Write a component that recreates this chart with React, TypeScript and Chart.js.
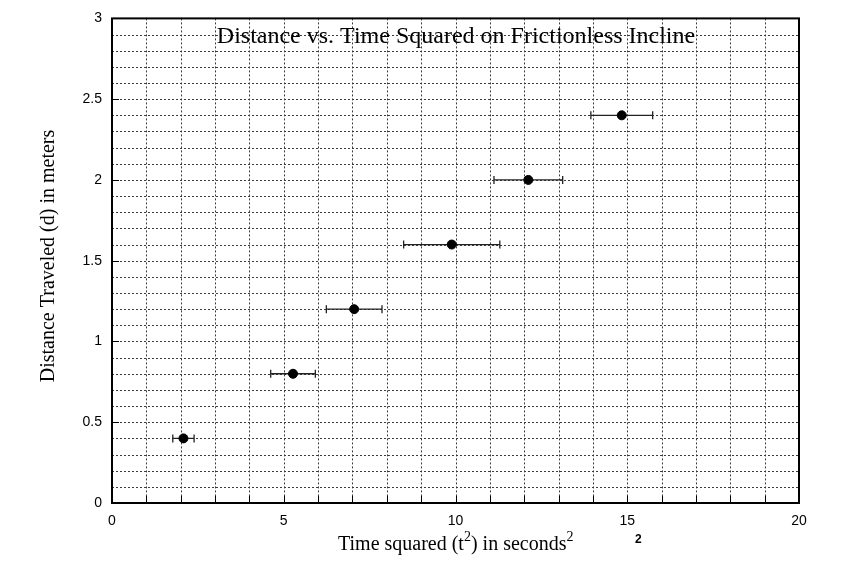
import React, { useEffect, useRef } from "react";
import { Chart, registerables } from "chart.js";

Chart.register(...registerables);

// ---- Data ----
const timeSquared = [2.08, 5.27, 7.05, 9.89, 12.12, 14.84];
const distance = [0.4, 0.8, 1.2, 1.6, 2.0, 2.4];
const timeSquaredError = [0.31, 0.65, 0.81, 1.4, 1.0, 0.9];
const xTickLabels = ["0", "5", "10", "15", "20"];
const yTickLabels = ["0", "0.5", "1", "1.5", "2", "2.5", "3"];
const titleText = "Distance vs. Time Squared on Frictionless Incline";
const yAxisTitle = "Distance Traveled (d) in meters";
const xAxisTitleParts: [string, boolean][] = [
  ["Time squared (t", false],
  ["2", true],
  [") in seconds", false],
  ["2", true],
];
const strayLabel = "2";

const SERIF = '"Liberation Serif", "Times New Roman", serif';
const SANS = '"Liberation Sans", Arial, sans-serif';

const gridPlugin = {
  id: "dottedGrid",
  beforeDatasetsDraw(chart: any) {
    const { ctx, chartArea: a, scales } = chart;
    const x = scales.x;
    const y = scales.y;
    ctx.save();
    ctx.strokeStyle = "#3c3c3c";
    ctx.lineWidth = 1;
    ctx.setLineDash([2, 2]);
    x.ticks.forEach((t: any) => {
      const px = Math.round(x.getPixelForValue(t.value)) + 0.5;
      if (px <= a.left + 2 || px >= a.right - 2) return;
      ctx.beginPath();
      ctx.moveTo(px, a.top);
      ctx.lineTo(px, a.bottom);
      ctx.stroke();
    });
    y.ticks.forEach((t: any) => {
      const py = Math.round(y.getPixelForValue(t.value)) + 0.5;
      if (py <= a.top + 2 || py >= a.bottom - 2) return;
      ctx.beginPath();
      ctx.moveTo(a.left, py);
      ctx.lineTo(a.right, py);
      ctx.stroke();
    });
    ctx.setLineDash([]);

    // error bars
    ctx.strokeStyle = "#222";
    ctx.lineWidth = 1.3;
    timeSquared.forEach((tv, i) => {
      const yy = y.getPixelForValue(distance[i]);
      const x0 = x.getPixelForValue(tv - timeSquaredError[i]);
      const x1 = x.getPixelForValue(tv + timeSquaredError[i]);
      ctx.beginPath();
      ctx.moveTo(x0, yy);
      ctx.lineTo(x1, yy);
      ctx.moveTo(x0, yy - 4);
      ctx.lineTo(x0, yy + 4);
      ctx.moveTo(x1, yy - 4);
      ctx.lineTo(x1, yy + 4);
      ctx.stroke();
    });
    ctx.restore();
  },
  afterDraw(chart: any) {
    const { ctx, chartArea: a, scales } = chart;
    const x = scales.x;
    const y = scales.y;
    ctx.save();
    // tick marks
    ctx.strokeStyle = "#000";
    ctx.lineWidth = 1;
    x.ticks.forEach((t: any) => {
      const px = Math.round(x.getPixelForValue(t.value)) + 0.5;
      ctx.beginPath();
      ctx.moveTo(px, a.bottom);
      ctx.lineTo(px, a.bottom - 7);
      ctx.stroke();
    });
    y.ticks.forEach((t: any) => {
      const v = Number(t.value);
      if (Math.abs(v * 2 - Math.round(v * 2)) > 1e-6) return;
      const py = Math.round(y.getPixelForValue(v)) + 0.5;
      ctx.beginPath();
      ctx.moveTo(a.left, py);
      ctx.lineTo(a.left + 7, py);
      ctx.stroke();
    });
    // frame
    ctx.lineWidth = 2;
    ctx.strokeRect(a.left, a.top, a.right - a.left, a.bottom - a.top);

    // title
    ctx.fillStyle = "#000";
    ctx.font = `24px ${SERIF}`;
    ctx.textAlign = "center";
    ctx.textBaseline = "alphabetic";
    ctx.fillText(titleText, 456, 43);

    // y title
    ctx.save();
    ctx.translate(54, 256);
    ctx.rotate(-Math.PI / 2);
    ctx.font = `20px ${SERIF}`;
    ctx.fillText(yAxisTitle, 0, 0);
    ctx.restore();

    // x title with superscripts
    ctx.textAlign = "left";
    let cx = 338;
    const base = 550;
    xAxisTitleParts.forEach(([txt, sup]) => {
      ctx.font = sup ? `14px ${SERIF}` : `20px ${SERIF}`;
      ctx.fillText(txt, cx, sup ? base - 9 : base);
      cx += ctx.measureText(txt).width;
    });
    ctx.font = `bold 12px ${SANS}`;
    ctx.fillText(strayLabel, 635, 543);
    ctx.restore();
  },
};

export default function App() {
  const ref = useRef<HTMLCanvasElement | null>(null);
  useEffect(() => {
    document.body.style.margin = "0";
    const canvas = ref.current;
    if (!canvas) return;
    const chart = new Chart(canvas, {
      type: "scatter",
      data: {
        datasets: [
          {
            data: timeSquared.map((t, i) => ({ x: t, y: distance[i] })),
            backgroundColor: "#000",
            borderColor: "#000",
            pointRadius: 4.5,
            pointHoverRadius: 4.5,
          },
        ],
      },
      options: {
        responsive: false,
        animation: false,
        devicePixelRatio: 1,
        layout: { padding: { left: 0, top: 13, right: 46, bottom: 0 } },
        plugins: { legend: { display: false }, tooltip: { enabled: false }, title: { display: false } },
        scales: {
          x: {
            type: "linear",
            min: 0,
            max: 20,
            grid: { display: false, drawTicks: false },
            border: { display: false },
            afterFit: (s: any) => {
              s.height = 60;
            },
            ticks: {
              stepSize: 1,
              autoSkip: false,
              maxRotation: 0,
              padding: 10,
              color: "#000",
              font: { family: SANS, size: 14 },
              callback: (v: any) => {
                const n = Number(v);
                return n % 5 === 0 ? xTickLabels[n / 5] : "";
              },
            },
          },
          y: {
            type: "linear",
            min: 0,
            max: 3,
            grid: { display: false, drawTicks: false },
            border: { display: false },
            afterFit: (s: any) => {
              s.width = 112;
            },
            ticks: {
              stepSize: 0.1,
              autoSkip: false,
              padding: 10,
              color: "#000",
              font: { family: SANS, size: 14 },
              callback: (v: any) => {
                const n = Number(v);
                if (Math.abs(n * 2 - Math.round(n * 2)) > 1e-6) return "";
                return yTickLabels[Math.round(n * 2)];
              },
            },
          },
        },
      },
      plugins: [gridPlugin],
    });
    return () => chart.destroy();
  }, []);
  return (
    <div style={{ position: "absolute", left: 0, top: 0, width: 845, height: 563, background: "#fff" }}>
      <canvas ref={ref} width={845} height={563} />
    </div>
  );
}
